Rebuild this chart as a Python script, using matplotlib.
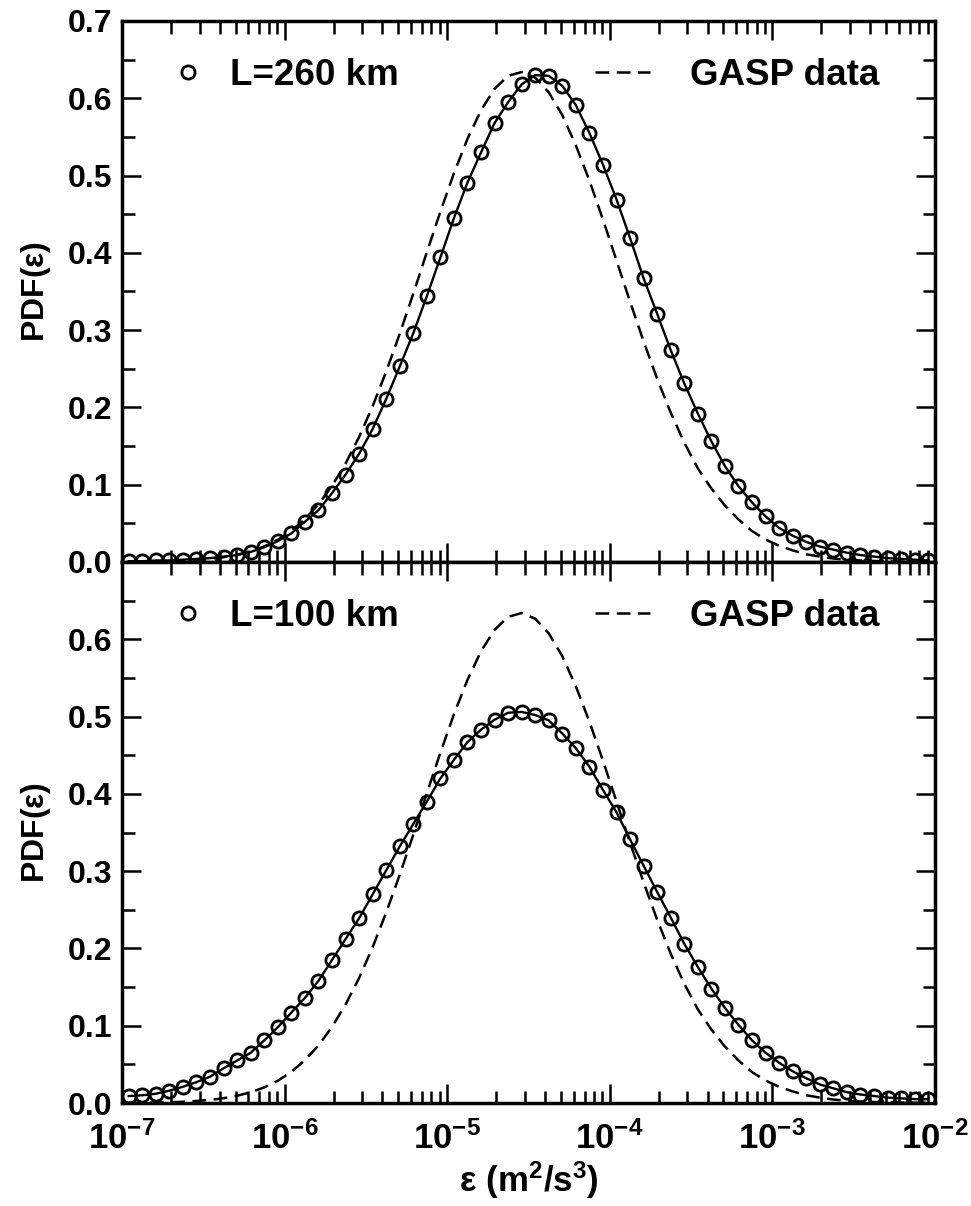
import matplotlib
matplotlib.use('Agg')
import matplotlib.pyplot as plt
import numpy as np
from matplotlib.ticker import LogLocator, MultipleLocator, FuncFormatter, NullFormatter

plt.rcParams['font.family'] = 'Liberation Sans'
plt.rcParams['font.weight'] = 'bold'
plt.rcParams['mathtext.fontset'] = 'custom'
plt.rcParams['mathtext.rm'] = 'Liberation Sans'
plt.rcParams['mathtext.bf'] = 'Liberation Sans:bold'
plt.rcParams['mathtext.it'] = 'Liberation Sans:italic'

# bin centres, 12 bins per decade from 1e-7 to 1e-2
eps = 10 ** (-7 + (np.arange(60) + 0.5) / 12)

# PDF for L=260 km (circles, fit line goes through them)
pdf_260 = [0.001, 0.001, 0.002, 0.002, 0.003, 0.004, 0.005, 0.007, 0.009, 0.013,
           0.019, 0.027, 0.037, 0.052, 0.067, 0.089, 0.113, 0.140, 0.172, 0.211,
           0.253, 0.296, 0.344, 0.394, 0.445, 0.491, 0.530, 0.568, 0.595, 0.618,
           0.630, 0.629, 0.616, 0.591, 0.555, 0.514, 0.469, 0.419, 0.367, 0.321,
           0.274, 0.231, 0.192, 0.156, 0.124, 0.098, 0.077, 0.059, 0.044, 0.034,
           0.026, 0.020, 0.016, 0.012, 0.009, 0.007, 0.005, 0.004, 0.003, 0.002]

# PDF for L=100 km
pdf_100 = [0.009, 0.010, 0.012, 0.016, 0.021, 0.027, 0.034, 0.045, 0.055, 0.065,
           0.081, 0.098, 0.117, 0.136, 0.158, 0.185, 0.212, 0.239, 0.270, 0.301,
           0.332, 0.361, 0.390, 0.420, 0.444, 0.467, 0.483, 0.496, 0.505, 0.506,
           0.502, 0.495, 0.478, 0.459, 0.435, 0.405, 0.376, 0.341, 0.307, 0.273,
           0.240, 0.206, 0.176, 0.148, 0.123, 0.101, 0.081, 0.065, 0.052, 0.041,
           0.032, 0.024, 0.019, 0.014, 0.011, 0.009, 0.007, 0.006, 0.005, 0.005]

# GASP data (dashed), same in both panels
gasp = [0.0002, 0.0003, 0.0006, 0.0010, 0.0016, 0.0026, 0.0040, 0.0062, 0.0094, 0.0139,
        0.0202, 0.0288, 0.0403, 0.0554, 0.0745, 0.0984, 0.1274, 0.1617, 0.2016, 0.2464,
        0.2953, 0.3472, 0.4007, 0.4533, 0.5030, 0.5475, 0.5846, 0.6123, 0.6290, 0.6340,
        0.6266, 0.6076, 0.5780, 0.5390, 0.4933, 0.4429, 0.3900, 0.3367, 0.2853, 0.2370,
        0.1932, 0.1543, 0.1211, 0.0950, 0.0730, 0.0550, 0.0400, 0.0290, 0.0210, 0.0150,
        0.0100, 0.0070, 0.0045, 0.0030, 0.0020, 0.0013, 0.0008, 0.0005, 0.0003, 0.0002]

panels = [(pdf_260, 'L=260 km'), (pdf_100, 'L=100 km')]

fig = plt.figure(figsize=(9.71, 12.06), dpi=100)
ax1 = fig.add_axes([0.1256, 0.534, 0.8373, 0.4486])
ax2 = fig.add_axes([0.1256, 0.0854, 0.8373, 0.4486], sharex=ax1)

for ax, (pdf, name) in zip([ax1, ax2], panels):
    dash, = ax.plot(eps, gasp, color='k', lw=1.8, ls=(0, (5.5, 3)))
    ax.plot(eps, pdf, 'k-', lw=1.7)
    circ, = ax.plot(eps, pdf, 'o', ms=9.5, mfc='none', mec='k', mew=2.0)
    ax.set_xscale('log')
    ax.set_xlim(1e-7, 1e-2)
    ax.set_ylim(0, 0.7)
    ax.xaxis.set_major_locator(LogLocator(base=10, numticks=10))
    ax.xaxis.set_minor_locator(LogLocator(base=10, subs=np.arange(2, 10), numticks=10))
    ax.xaxis.set_minor_formatter(NullFormatter())
    ax.yaxis.set_major_locator(MultipleLocator(0.1))
    ax.yaxis.set_minor_locator(MultipleLocator(0.05))
    ax.tick_params(which='both', direction='in', top=True, right=True, width=1.8)
    ax.tick_params(which='major', length=14)
    ax.tick_params(which='minor', length=9)
    ax.tick_params(axis='y', labelsize=23, pad=7)
    ax.tick_params(axis='x', labelsize=25, pad=13)
    for s in ax.spines.values():
        s.set_linewidth(2.5)
    ax.set_ylabel(r'$\mathbf{PDF(}\mathrm{\varepsilon}\mathbf{)}$', fontsize=23)
    ax.yaxis.set_label_coords(-0.085, 0.5)

    leg1 = ax.legend([circ], [name], loc='center left', bbox_to_anchor=(0.0585, 0.9),
                     frameon=False, fontsize=26.5, handlelength=1.0, handletextpad=0.64,
                     borderpad=0, borderaxespad=0, numpoints=1)
    ax.add_artist(leg1)
    ax.legend([dash], ['GASP data'], loc='center left', bbox_to_anchor=(0.582, 0.9),
              frameon=False, fontsize=26.5, handlelength=1.5, handletextpad=1.09,
              borderpad=0, borderaxespad=0)

ax1.tick_params(labelbottom=False)
ax1.yaxis.set_major_formatter(FuncFormatter(lambda v, p: f'{v:.1f}'))
ax2.yaxis.set_major_formatter(FuncFormatter(lambda v, p: '' if v > 0.65 else f'{v:.1f}'))
ax2.xaxis.set_major_formatter(FuncFormatter(lambda v, p: r'$\mathbf{10^{%d}}$' % round(np.log10(v))))

ax2.set_xlabel(r'$\mathrm{\varepsilon}\ \mathbf{(m^{2}/s^{3})}$', fontsize=25)
ax2.xaxis.set_label_coords(0.5, -0.105)

plt.savefig('out.png', dpi=100)
